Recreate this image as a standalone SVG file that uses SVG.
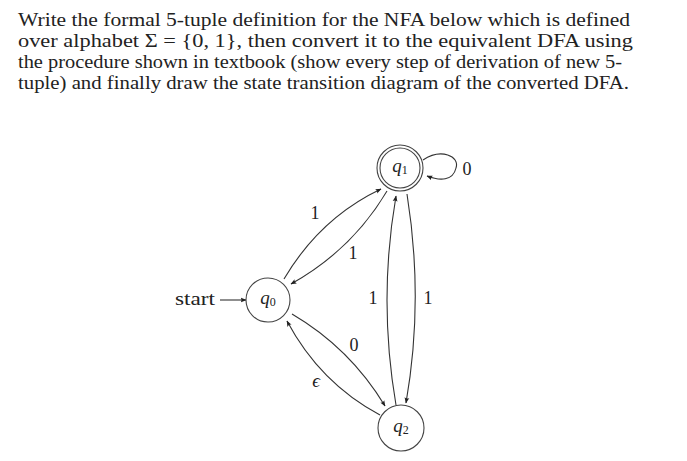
<svg xmlns="http://www.w3.org/2000/svg" width="687" height="461" viewBox="0 0 687 461">
<defs>
<marker id="ah" viewBox="0 0 10 10" refX="9" refY="5" markerWidth="6" markerHeight="6" orient="auto" markerUnits="userSpaceOnUse">
<path d="M0,1 L10,5 L0,9 Q3,5 0,1 Z" fill="#222"/>
</marker>
<style>
.q{font-family:"Liberation Serif","DejaVu Serif",serif;font-size:18px;fill:#222}
.nd{fill:#fff;stroke:#444;stroke-width:1.1}
.lb{font-family:"Liberation Serif","DejaVu Serif",serif;font-size:18px;fill:#222}
.ql{font-family:"Liberation Serif","DejaVu Serif",serif;font-size:19px;font-style:italic;fill:#222}
.sub{font-size:12px;font-style:normal}
.e{fill:none;stroke:#333;stroke-width:1.1;marker-end:url(#ah)}
</style>
</defs>
<rect width="687" height="461" fill="#fff"/>
<g id="question">
<text class="q" x="18" y="26" textLength="612" lengthAdjust="spacingAndGlyphs">Write the formal 5-tuple definition for the NFA below which is defined</text>
<text class="q" x="18" y="47" textLength="615" lengthAdjust="spacingAndGlyphs">over alphabet Σ = {0, 1}, then convert it to the equivalent DFA using</text>
<text class="q" x="18" y="68" textLength="604" lengthAdjust="spacingAndGlyphs">the procedure shown in textbook (show every step of derivation of new 5-</text>
<text class="q" x="18" y="89" textLength="611" lengthAdjust="spacingAndGlyphs">tuple) and finally draw the state transition diagram of the converted DFA.</text>
</g>
<g id="connectors">
<path class="e" d="M220,300 L246,300"/>
<path class="e" d="M284,279 Q320,218 381,189"/>
<path class="e" d="M387,191 Q352,250 291,284"/>
<path class="e" d="M396,405 Q378,300 396,196"/>
<path class="e" d="M407,194 Q424,300 406,403"/>
<path class="e" d="M292,314 Q350,348 385,406"/>
<path class="e" d="M380,415 Q320,383 287,321"/>
<path class="e" d="M423,160 C441,148 460,156 456,168 C453,181 440,181 427,176"/>
</g>
<g id="labels">
<text class="lb" x="175" y="305" textLength="40" lengthAdjust="spacingAndGlyphs">start</text>
<text class="lb" x="315" y="219" text-anchor="middle">1</text>
<text class="lb" x="353" y="259" text-anchor="middle">1</text>
<text class="lb" x="373" y="304" text-anchor="middle">1</text>
<text class="lb" x="428" y="304" text-anchor="middle">1</text>
<text class="lb" x="354" y="351" text-anchor="middle">0</text>
<text class="ql" x="316" y="387" text-anchor="middle">ϵ</text>
<text class="lb" x="467" y="175" text-anchor="middle">0</text>
</g>
<g id="q0">
<circle class="nd" cx="268" cy="300" r="22"/>
<text class="ql" x="268" y="304" text-anchor="middle">q<tspan class="sub" dy="2">0</tspan></text>
</g>
<g id="q1">
<circle class="nd" cx="400" cy="168" r="23"/>
<circle class="nd" cx="400" cy="168" r="20"/>
<text class="ql" x="400" y="172" text-anchor="middle">q<tspan class="sub" dy="2">1</tspan></text>
</g>
<g id="q2">
<circle class="nd" cx="401" cy="428" r="23"/>
<text class="ql" x="401" y="432" text-anchor="middle">q<tspan class="sub" dy="2">2</tspan></text>
</g>
</svg>
